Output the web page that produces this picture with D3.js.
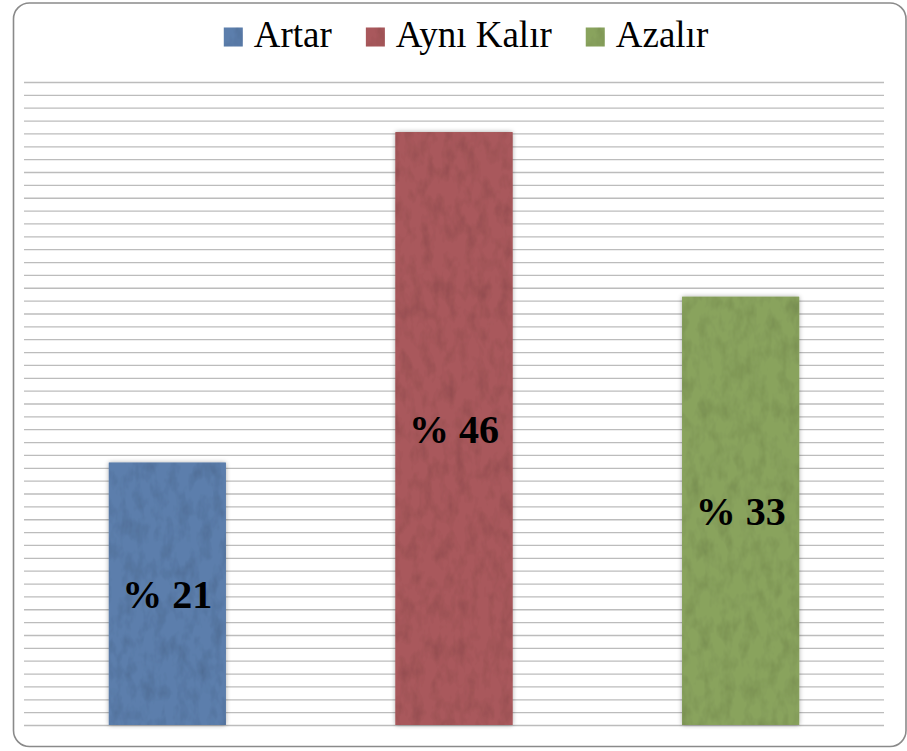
<!DOCTYPE html>
<html><head><meta charset="utf-8">
<script src="https://cdn.jsdelivr.net/npm/d3@7"></script>
<style>html,body{margin:0;padding:0;background:#fff;}svg{display:block;}</style>
</head><body>
<script>
const categories = ["Artar", "Aynı Kalır", "Azalır"];
const values = [20.4, 46.1, 33.3];
const labels = ["% 21", "% 46", "% 33"];
const colors = ["#5b7eac", "#a9585b", "#89a35d"];
const yMax = 50;

const W = 907, H = 751;
const svg = d3.select("body").append("svg").attr("width", W).attr("height", H);
const defs = svg.append("defs");

// texture filter
const f = defs.append("filter").attr("id","tex").attr("x","0").attr("y","0").attr("width","1").attr("height","1");
f.append("feTurbulence").attr("type","fractalNoise").attr("baseFrequency","0.09 0.05").attr("numOctaves",3).attr("seed",4).attr("result","noise");
f.append("feColorMatrix").attr("in","noise").attr("type","matrix")
 .attr("values","0 0 0 0 0  0 0 0 0 0  0 0 0 0 0  0 0 0 -1.6 0.95").attr("result","dark");
f.append("feComposite").attr("in","dark").attr("in2","SourceGraphic").attr("operator","in").attr("result","darkIn");
f.append("feComponentTransfer").attr("in","darkIn").attr("result","d2")
 .append("feFuncA").attr("type","linear").attr("slope",0.3);
const m = f.append("feMerge");
m.append("feMergeNode").attr("in","SourceGraphic");
m.append("feMergeNode").attr("in","d2");

const sh = defs.append("filter").attr("id","shadow").attr("x","-20%").attr("y","-5%").attr("width","140%").attr("height","110%");
sh.append("feGaussianBlur").attr("in","SourceAlpha").attr("stdDeviation",2.5).attr("result","b");
sh.append("feComponentTransfer").attr("in","b").attr("result","o2").append("feFuncA").attr("type","linear").attr("slope",0.35);
const sm = sh.append("feMerge");
sm.append("feMergeNode").attr("in","o2");
sm.append("feMergeNode").attr("in","SourceGraphic");

// chart border
svg.append("rect").attr("x",13.5).attr("y",3).attr("width",892.5).attr("height",743.5)
  .attr("rx",16).attr("ry",16).attr("fill","#fff").attr("stroke","#8a8a8a").attr("stroke-width",1.6);

const plot = {left:24, right:884, top:82, bottom:725};
const x = d3.scaleBand().domain(categories).range([plot.left, plot.right]).paddingInner(0.592).paddingOuter(0.296);
const y = d3.scaleLinear().domain([0, yMax]).range([plot.bottom, plot.top]);

// gridlines
const grid = svg.append("g").attr("transform",`translate(${plot.left},0)`)
  .call(d3.axisLeft(y).ticks(50).tickSize(-(plot.right-plot.left)).tickFormat(""));
grid.select(".domain").remove();
grid.selectAll(".tick line").attr("stroke","#bcbcbc").attr("stroke-width",1.3);

// bars
svg.append("g").selectAll("rect").data(values).join("rect")
  .attr("x",(d,i)=>x(categories[i]))
  .attr("y",d=>y(d))
  .attr("width",x.bandwidth())
  .attr("height",d=>y(0)-y(d))
  .attr("fill",(d,i)=>colors[i])
  .attr("filter","url(#shadow)");
svg.append("g").selectAll("rect").data(values).join("rect")
  .attr("x",(d,i)=>x(categories[i]))
  .attr("y",d=>y(d))
  .attr("width",x.bandwidth())
  .attr("height",d=>y(0)-y(d))
  .attr("fill",(d,i)=>colors[i])
  .attr("filter","url(#tex)");

// labels
svg.append("g").selectAll("text").data(values).join("text")
  .attr("x",(d,i)=>x(categories[i])+x.bandwidth()/2)
  .attr("y",d=>(y(d)+y(0))/2)
  .attr("dy","0.35em")
  .attr("text-anchor","middle")
  .attr("font-family","'Liberation Serif', serif")
  .attr("font-weight","bold")
  .attr("font-size",40)
  .attr("fill","#000")
  .text((d,i)=>labels[i]);

// legend
const lg = svg.append("g");
const items = lg.selectAll("g").data(categories).join("g");
items.append("rect").attr("width",19).attr("height",19).attr("y",-19.5)
  .attr("fill",(d,i)=>colors[i]).attr("filter","url(#tex)");
items.append("text").attr("x",30).attr("y",0)
  .attr("font-family","'Liberation Serif', serif").attr("font-size",37).attr("fill","#000")
  .text(d=>d);
let cx = 0;
const pos = [];
items.each(function(d,i){
  const tw = d3.select(this).select("text").node().getComputedTextLength();
  pos.push(cx);
  cx += 30 + tw + 34;
});
const total = cx - 34;
const start = 466 - total/2;
items.attr("transform",(d,i)=>`translate(${start+pos[i]},47)`);
</script>
</body></html>
